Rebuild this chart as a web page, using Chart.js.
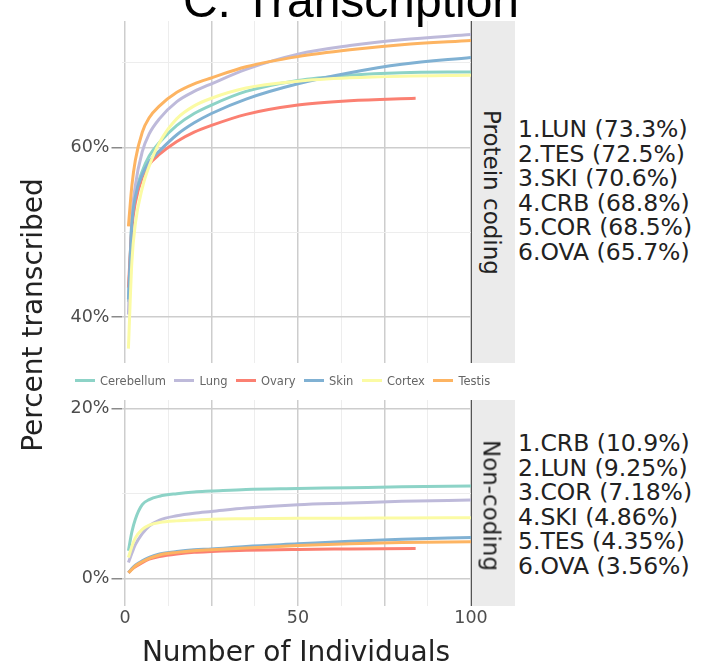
<!DOCTYPE html>
<html>
<head>
<meta charset="utf-8">
<script src="https://cdn.jsdelivr.net/npm/chart.js@4/dist/chart.umd.min.js"></script>
<style>
    html, body { margin: 0; padding: 0; background: #ffffff; }
    body { width: 701px; height: 668px; position: relative; overflow: hidden; font-family: "DejaVu Sans", sans-serif; }
    .abs { position: absolute; }
    .title { font-family: "Liberation Sans", Arial, sans-serif; font-size: 48px; line-height: 48px; color: #000; white-space: nowrap; }
    .axis-title { font-size: 28px; line-height: 28px; color: #222; white-space: nowrap; text-align: center; }
    .strip { background: #ebebeb; border-left: 1.5px solid #555; box-sizing: border-box; }
    .strip-text { font-size: 23px; line-height: 23px; color: #222; white-space: nowrap; text-align: center; }
    .ranks { font-size: 23.5px; line-height: 24.5px; color: #222; white-space: pre; }
    .legend { display: flex; align-items: center; font-size: 11.5px; color: #666; white-space: nowrap; }
    .legend .key { width: 20px; height: 3px; margin-right: 5px; }
    .legend .item { display: flex; align-items: center; margin-right: 8.5px; }
</style>
</head>
<body>

<canvas id="top" class="abs"></canvas>
<canvas id="bottom" class="abs"></canvas>

<div class="abs strip" style="left:471px; top:21px; width:44px; height:342px;"></div>
<div class="abs strip" style="left:471px; top:400px; width:44px; height:206px;"></div>

<div id="legend" class="abs legend" style="left:75px; top:373px; height:15px;"></div>
<div id="ranksTop" class="abs ranks" style="left:518px; top:117px;"></div>
<div id="ranksBottom" class="abs ranks" style="left:518px; top:431px;"></div>

<script>
// x positions (number of individuals) the curves were read at
const individuals = [1, 2, 3, 5, 7, 10, 15, 20, 25, 35, 50, 65, 80, 100];
const individualsOvary = [1, 2, 3, 5, 7, 10, 15, 20, 25, 35, 50, 65, 84];

const tissues = ['Cerebellum', 'Lung', 'Ovary', 'Skin', 'Cortex', 'Testis'];
const tissueColors = ['#8dd3c7', '#bebada', '#fb8072', '#80b1d3', '#fbfba4', '#fdb462'];

// Protein coding (percent transcribed)
const codingCerebellum = [41.8, 51.5, 54.5, 57.2, 59.0, 60.6, 62.6, 64.0, 65.0, 66.6, 67.9, 68.5, 68.8, 68.9];
const codingLung       = [40.3, 51.5, 55.5, 59.5, 61.6, 63.4, 65.4, 66.6, 67.5, 69.2, 71.0, 72.0, 72.7, 73.3];
const codingOvary      = [43.5, 50.5, 53.5, 56.5, 58.0, 59.2, 60.7, 61.8, 62.6, 63.9, 65.0, 65.5, 65.8];
const codingSkin       = [42.1, 51.0, 54.2, 56.8, 58.3, 59.6, 61.5, 62.9, 64.0, 65.7, 67.5, 68.8, 69.8, 70.6];
const codingCortex     = [36.3, 46.5, 51.0, 55.2, 57.8, 60.6, 63.4, 64.9, 65.8, 67.0, 67.8, 68.2, 68.4, 68.5];
const codingTestis     = [50.7, 55.5, 58.5, 61.8, 63.5, 64.9, 66.5, 67.5, 68.2, 69.5, 70.7, 71.5, 72.1, 72.6];

// Non-coding (percent transcribed)
const nonCodingCerebellum = [3.3, 5.5, 7.0, 8.7, 9.3, 9.7, 10.0, 10.2, 10.3, 10.5, 10.6, 10.7, 10.8, 10.9];
const nonCodingLung       = [1.9, 3.0, 4.0, 5.3, 6.2, 6.9, 7.4, 7.7, 7.9, 8.3, 8.7, 8.9, 9.1, 9.25];
const nonCodingOvary      = [0.7, 1.1, 1.4, 1.9, 2.3, 2.6, 2.9, 3.1, 3.2, 3.35, 3.45, 3.5, 3.56];
const nonCodingSkin       = [0.7, 1.2, 1.6, 2.1, 2.5, 2.9, 3.2, 3.4, 3.5, 3.8, 4.1, 4.4, 4.65, 4.86];
const nonCodingCortex     = [2.5, 3.8, 4.8, 5.8, 6.3, 6.6, 6.8, 6.9, 7.0, 7.05, 7.1, 7.12, 7.15, 7.18];
const nonCodingTestis     = [0.7, 1.1, 1.5, 2.0, 2.4, 2.8, 3.1, 3.3, 3.4, 3.6, 3.9, 4.1, 4.25, 4.35];

const codingRanks = ['1.LUN (73.3%)', '2.TES (72.5%)', '3.SKI (70.6%)', '4.CRB (68.8%)', '5.COR (68.5%)', '6.OVA (65.7%)'];
const nonCodingRanks = ['1.CRB (10.9%)', '2.LUN (9.25%)', '3.COR (7.18%)', '4.SKI (4.86%)', '5.TES (4.35%)', '6.OVA (3.56%)'];

// ticks
const xGrid = [0, 12.5, 25, 37.5, 50, 62.5, 75, 87.5, 100];
const xLabelled = [0, 50, 100];
const xMajor = [0, 25, 50, 75, 100];
const yGridTop = [40, 50, 60, 70];
const yLabelledTop = [40, 60];
const yGridBottom = [0, 10, 20];
const yLabelledBottom = [0, 20];

const tickFont = { family: 'DejaVu Sans', size: 17.5 };
const majorGrid = '#cdcdcd';
const minorGrid = '#ededed';
const PAD = 14;

function makeDatasets(rows) {
    return rows.map((values, i) => {
        const xs = tissues[i] === 'Ovary' ? individualsOvary : individuals;
        return {
            label: tissues[i],
            data: values.map((v, j) => ({ x: xs[j], y: v })),
            borderColor: tissueColors[i],
            backgroundColor: tissueColors[i],
            borderWidth: 3,
            pointRadius: 0,
            cubicInterpolationMode: 'monotone',
            fill: false,
            order: tissues.length - 1 - i
        };
    });
}

function setTicks(list) {
    return scale => {
        scale.ticks = list.map(v => ({ value: v }));
    };
}

// opts.top / opts.plotHeight describe the plot area in page pixels
function initChart(id, rows, opts) {
    const canvas = document.getElementById(id);
    const height = PAD + opts.plotHeight + opts.xHeight + opts.padBottom;
    canvas.style.left = '0px';
    canvas.style.top = (opts.top - PAD) + 'px';
    canvas.width = 500;
    canvas.height = height;
    canvas.style.width = '500px';
    canvas.style.height = height + 'px';

    return new Chart(canvas, {
        type: 'line',
        data: { datasets: makeDatasets(rows) },
        options: {
            responsive: false,
            animation: false,
            events: [],
            layout: { padding: { left: 0, right: 29, top: PAD, bottom: opts.padBottom } },
            plugins: { legend: { display: false }, tooltip: { enabled: false } },
            scales: {
                x: {
                    type: 'linear',
                    min: -1,
                    max: 100,
                    afterBuildTicks: setTicks(xGrid),
                    afterFit: scale => { scale.height = opts.xHeight; },
                    border: { display: false },
                    grid: {
                        drawTicks: false,
                        color: ctx => xMajor.includes(ctx.tick.value) ? majorGrid : minorGrid,
                        lineWidth: ctx => xMajor.includes(ctx.tick.value) ? 1.5 : 1
                    },
                    ticks: {
                        display: opts.xLabels,
                        padding: 2,
                        color: '#4d4d4d',
                        font: tickFont,
                        maxRotation: 0,
                        autoSkip: false,
                        callback: v => xLabelled.includes(v) ? String(v) : ''
                    }
                },
                y: {
                    type: 'linear',
                    min: opts.yMin,
                    max: opts.yMax,
                    afterBuildTicks: setTicks(opts.yGrid),
                    afterFit: scale => { scale.width = 121.5; },
                    border: { display: false },
                    grid: {
                        tickLength: 10,
                        color: ctx => opts.yLabelled.includes(ctx.tick.value) ? majorGrid : minorGrid,
                        lineWidth: ctx => opts.yLabelled.includes(ctx.tick.value) ? 1.5 : 1,
                        tickColor: ctx => opts.yLabelled.includes(ctx.tick.value) ? '#8a8a8a' : 'rgba(0,0,0,0)',
                        tickWidth: 1.5
                    },
                    ticks: {
                        padding: 2,
                        color: '#4d4d4d',
                        font: tickFont,
                        autoSkip: false,
                        callback: v => opts.yLabelled.includes(v) ? v + '%' : ''
                    }
                }
            }
        }
    });
}

function addText(cls, text, css) {
    const el = document.createElement('div');
    el.className = 'abs ' + cls;
    el.textContent = text;
    Object.assign(el.style, css);
    document.body.appendChild(el);
    return el;
}

(function() {
    initChart('top',
        [codingCerebellum, codingLung, codingOvary, codingSkin, codingCortex, codingTestis],
        { top: 21, plotHeight: 342, xHeight: 0, padBottom: PAD, xLabels: false, yMin: 34.6, yMax: 74.9, yGrid: yGridTop, yLabelled: yLabelledTop });

    initChart('bottom',
        [nonCodingCerebellum, nonCodingLung, nonCodingOvary, nonCodingSkin, nonCodingCortex, nonCodingTestis],
        { top: 400, plotHeight: 206, xHeight: 30, padBottom: 0, xLabels: true, yMin: -3.2, yMax: 21.0, yGrid: yGridBottom, yLabelled: yLabelledBottom });

    // legend
    const legend = document.getElementById('legend');
    tissues.forEach((name, i) => {
        const item = document.createElement('div');
        item.className = 'item';
        item.innerHTML = '<span class="key" style="background:' + tissueColors[i] + '"></span><span>' + name + '</span>';
        legend.appendChild(item);
    });

    document.getElementById('ranksTop').textContent = codingRanks.join('\n');
    document.getElementById('ranksBottom').textContent = nonCodingRanks.join('\n');

    // titles
    addText('title', 'C. Transcription', { left: '151px', width: '400px', top: '-22.6px', textAlign: 'center' });
    addText('axis-title', 'Number of Individuals', { left: '96px', width: '400px', top: '638.3px' });
    addText('axis-title', 'Percent transcribed', { left: (33.3 - 200) + 'px', top: (315 - 14) + 'px', width: '400px', transform: 'rotate(-90deg)' });
    addText('strip-text', 'Protein coding', { left: (491 - 150) + 'px', top: (192 - 11.5) + 'px', width: '300px', transform: 'rotate(90deg)' });
    addText('strip-text', 'Non-coding', { left: (491 - 150) + 'px', top: (505 - 11.5) + 'px', width: '300px', transform: 'rotate(90deg)' });
})();
</script>
</body>
</html>
